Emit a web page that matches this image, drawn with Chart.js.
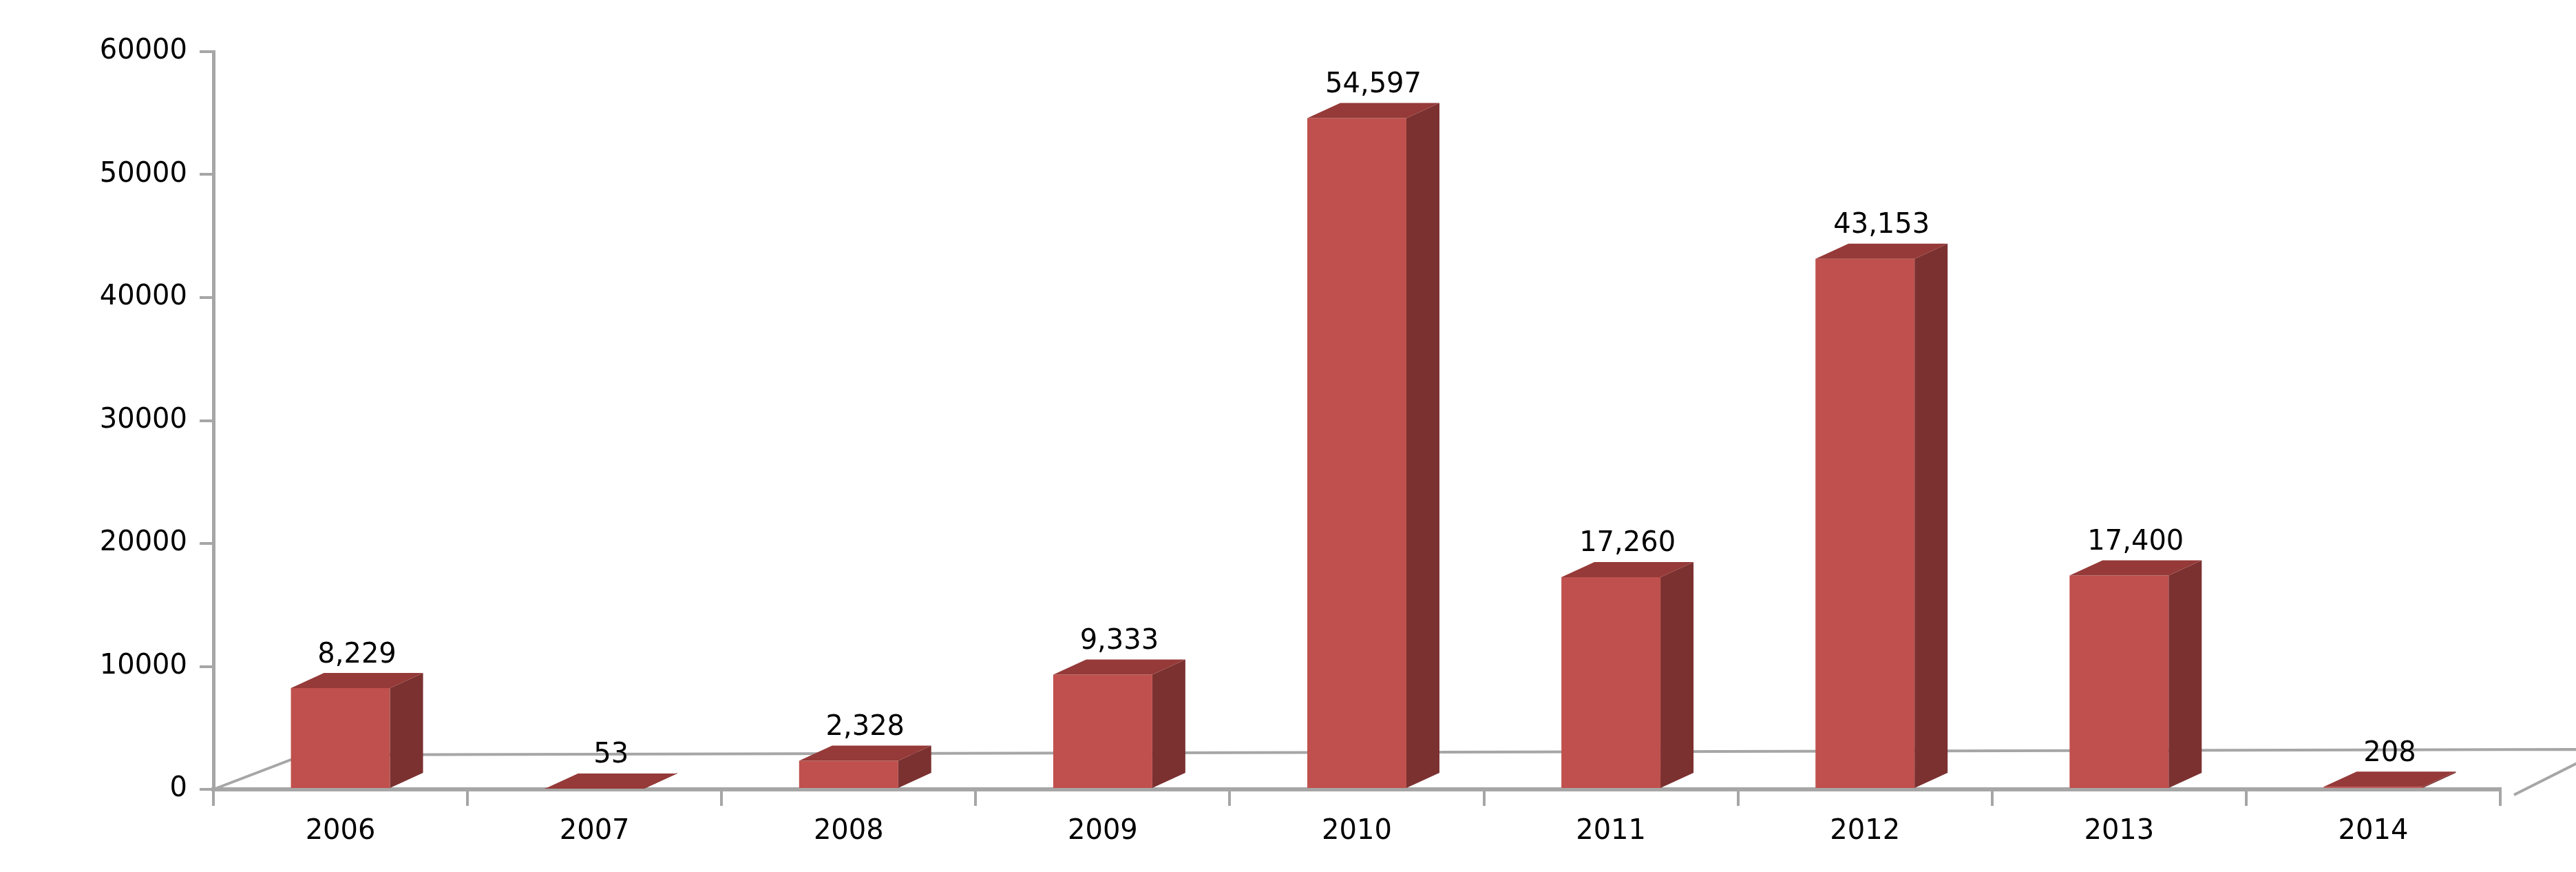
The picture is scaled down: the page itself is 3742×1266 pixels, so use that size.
<!DOCTYPE html>
<html><head><meta charset="utf-8">
<script src="https://cdn.jsdelivr.net/npm/chart.js@4/dist/chart.umd.min.js"></script>
<style>html,body{margin:0;background:#fff}#w{width:3742px;height:1266px}</style>
</head><body><div id="w"><canvas id="c"></canvas></div>
<script>
const categories = ["2006","2007","2008","2009","2010","2011","2012","2013","2014"];
const values = [8229,53,2328,9333,54597,17260,43153,17400,208];
const yTicks = [0,10000,20000,30000,40000,50000,60000];
const DX=48, DY=22, FDX=131, FDY=50;
const fmt = v => v.toLocaleString('en-US');
const three = {
  id:'three',
  beforeDatasetsDraw(ch){
    const c=ch.ctx, a=ch.chartArea;
    c.save(); c.strokeStyle='#A6A6A6'; c.lineWidth=4;
    c.beginPath();
    c.moveTo(a.left,a.bottom); c.lineTo(a.left+FDX,a.bottom-FDY);
    c.lineTo(a.right+FDX+20,a.bottom-FDY-8); c.lineTo(a.right+20,a.bottom+8);
    c.stroke(); c.restore();
  },
  afterDatasetsDraw(ch){
    const c=ch.ctx; const m=ch.getDatasetMeta(0);
    c.save();
    m.data.forEach((b,i)=>{
      const l=b.x-b.width/2, r=b.x+b.width/2, y=b.y, base=b.base;
      c.fillStyle='#7B3130';
      c.beginPath(); c.moveTo(r,y); c.lineTo(r+DX,y-DY); c.lineTo(r+DX,base-DY); c.lineTo(r,base); c.closePath(); c.fill();
      c.fillStyle='#953A38';
      c.beginPath(); c.moveTo(l,y); c.lineTo(l+DX,y-DY); c.lineTo(r+DX,y-DY); c.lineTo(r,y); c.closePath(); c.fill();
      c.fillStyle='#000'; c.font='40px "DejaVu Sans"'; c.textAlign='center'; c.textBaseline='bottom';
      c.fillText(fmt(values[i]), b.x+DX/2, y-DY-6);
    });
    c.restore();
  }
};
new Chart(document.getElementById('c'),{
  type:'bar',
  data:{labels:categories,datasets:[{data:values,backgroundColor:'#C0504D',barPercentage:0.39,categoryPercentage:1}]},
  options:{
    responsive:true,maintainAspectRatio:false,animation:false,
    layout:{padding:{top:75,right:110,bottom:20,left:20}},
    plugins:{legend:{display:false},tooltip:{enabled:false}},
    scales:{
      x:{offset:true,grid:{offset:true,drawOnChartArea:false,tickLength:24,color:'#A6A6A6',lineWidth:4},
         border:{color:'#A6A6A6',width:6},
         ticks:{color:'#000',font:{size:40,family:'DejaVu Sans'},padding:14}},
      y:{min:0,max:60000,afterBuildTicks:s=>{s.ticks=yTicks.map(v=>({value:v}));},
         afterFit:s=>{s.width=290;},
         grid:{drawOnChartArea:false,tickLength:20,color:'#A6A6A6',lineWidth:4},
         border:{color:'#A6A6A6',width:5},
         ticks:{color:'#000',font:{size:40,family:'DejaVu Sans'},padding:18,callback:v=>String(v)}}
    }
  },
  plugins:[three]
});
</script></body></html>
